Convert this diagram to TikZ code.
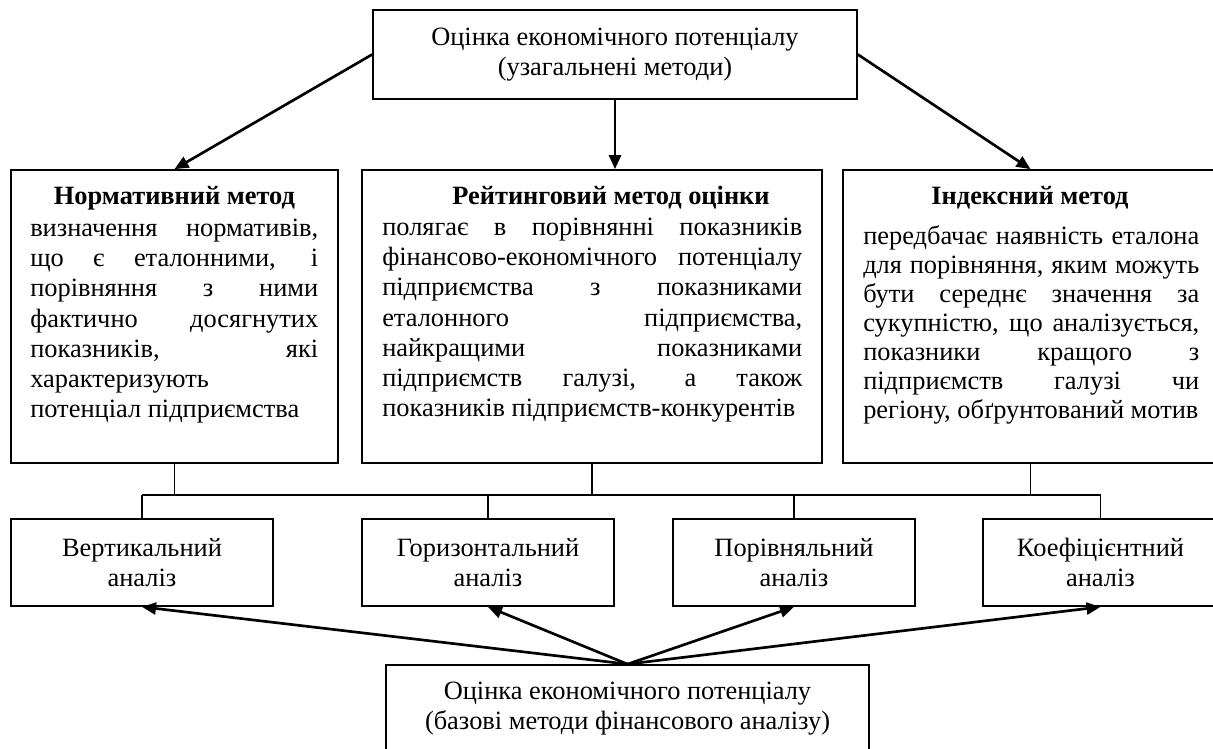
\documentclass[tikz,border=0pt]{standalone}
\usepackage{fontspec}
\setmainfont{Liberation Serif}
\usetikzlibrary{arrows.meta}
\newcommand\jl[2]{\makebox[#1][s]{#2}}
\begin{document}
\begin{tikzpicture}[x=0.75pt,y=-0.75pt,
  txt/.style={font=\fontsize{19.8pt}{22.7pt}\selectfont},
  box/.style={draw, line width=1.3pt, inner sep=0pt, align=center, txt},
  body/.style={inner sep=0pt, anchor=north west, align=left, txt},
  head/.style={inner sep=0pt, anchor=base, font=\fontsize{19.8pt}{22.7pt}\selectfont\bfseries},
  arr/.style={line width=2pt, -{Triangle[length=10.5pt,width=9pt]}},
  bus/.style={line width=1pt}]
\useasboundingbox (0,0) rectangle (1213,749);
\clip (0,0) rectangle (1213,749);
\fill[white] (0,0) rectangle (1213,749);
% boxes
\node[box, minimum width=363pt, minimum height=66.75pt] (top) at (615,54.5)
  {Оцінка економічного потенціалу\\(узагальнені методи)};
\node[box, minimum width=245.25pt, minimum height=219.75pt] (left) at (174.5,316.5) {};
\node[box, minimum width=345pt, minimum height=219.75pt] (mid) at (592,316.5) {};
\node[box, minimum width=281.25pt, minimum height=219.75pt] (right) at (1030.5,316.5) {};
\node[box, minimum width=196.5pt, minimum height=65.25pt] (vert) at (142,562.5) {Вертикальний\\аналіз};
\node[box, minimum width=189pt, minimum height=65.25pt] (hor) at (488,562.5) {Горизонтальний\\аналіз};
\node[box, minimum width=181.5pt, minimum height=65.25pt] (por) at (794,562.5) {Порівняльний\\аналіз};
\node[box, minimum width=176.25pt, minimum height=65.25pt] (koef) at (1100.5,562.5) {Коефіцієнтний\\аналіз};
\node[box, minimum width=362.25pt, minimum height=65.25pt] (bot) at (627.5,708.5)
  {Оцінка економічного потенціалу\\(базові методи фінансового аналізу)};
% texts in big boxes
\node[head] (lefth) at (174.5,204) {Нормативний метод};
\node[head] (midh) at (611,204) {Рейтинговий метод оцінки};
\node[head] (righth) at (1030,204) {Індексний метод};
\node[body] (leftb) at (30,214.8) {%
\strut\jl{216pt}{визначення нормативів,}\\
\jl{216pt}{що є еталонними, і}\\
\jl{216pt}{порівняння з ними}\\
\jl{216pt}{фактично досягнутих}\\
\jl{216pt}{показників, які}\\
характеризують\\
потенціал підприємства};
\node[body] (midb) at (382,213.8) {%
\strut\jl{315pt}{полягає в порівнянні показників}\\
\jl{315pt}{фінансово-економічного потенціалу}\\
\jl{315pt}{підприємства з показниками}\\
\jl{315pt}{еталонного підприємства,}\\
\jl{315pt}{найкращими показниками}\\
\jl{315pt}{підприємств галузі, а також}\\
показників підприємств-конкурентів};
\node[body, font=\fontsize{19.8pt}{21.75pt}\selectfont] (rightb) at (863,223.7) {%
\strut\jl{252pt}{передбачає наявність еталона}\\
\jl{252pt}{для порівняння, яким можуть}\\
\jl{252pt}{бути середнє значення за}\\
\jl{252pt}{сукупністю, що аналізується,}\\
\jl{252pt}{показники кращого з}\\
\jl{252pt}{підприємств галузі чи}\\
регіону, обґрунтований мотив};
% arrows from top
\draw[arr] (top.west) -- (left.north);
\draw[arr] (top.south) -- (top.south |- mid.north);
\draw[arr] (top.east) -- (right.north);
% bus
\coordinate (bus) at (0,495);
\draw[bus] (vert.north |- bus) -- (koef.north |- bus);
\draw[bus] (left.south) -- (left.south |- bus);
\draw[bus] (mid.south) -- (mid.south |- bus);
\draw[bus] (right.south) -- (right.south |- bus);
\draw[bus] (vert.north |- bus) -- (vert.north);
\draw[bus] (hor.north |- bus) -- (hor.north);
\draw[bus] (por.north |- bus) -- (por.north);
\draw[bus] (koef.north |- bus) -- (koef.north);
% arrows from bottom
\draw[arr] (bot.north) -- (vert.south);
\draw[arr] (bot.north) -- (hor.south);
\draw[arr] (bot.north) -- (por.south);
\draw[arr] (bot.north) -- (koef.south);
\end{tikzpicture}
\end{document}
